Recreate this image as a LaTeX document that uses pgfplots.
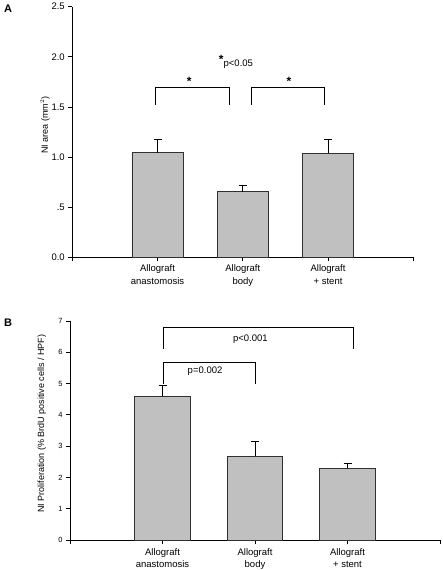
\documentclass[border=0pt]{standalone}
\usepackage{fontspec}
\setmainfont{Liberation Sans}
\usepackage{pgfplots}
\pgfplotsset{compat=1.18}
\definecolor{barfill}{HTML}{C0C0C0}
\definecolor{baredge}{HTML}{303030}
\begin{document}
\begin{tikzpicture}
\path[use as bounding box] (0,0) rectangle (442pt,570pt);
\pgfplotsset{
  myaxis/.style={
    scale only axis,
    anchor=south west,
    xmin=-1, xmax=3, ymin=0,
    axis x line*=bottom, axis y line*=left,
    axis line style={line width=0.8pt,black},
    tick align=outside,
    major tick length=4pt,
    tick style={line width=0.8pt,black},
    xtick={-1,0,1,2,3},
    xticklabels={,Allograft\\anastomosis,Allograft\\body,Allograft\\+ stent,},
    xticklabel style={align=center,font=\fontsize{9.5}{13}\selectfont},
    ybar, bar width=0.6,
    clip=false,
  },
  mybar/.style={fill=barfill, draw=baredge, line width=0.8pt,
    error bars/.cd, y dir=plus, y explicit,
    error bar style={line width=0.8pt,black},
    error mark options={rotate=90,mark size=4pt,line width=0.8pt,black}},
}
% Panel A
\begin{axis}[myaxis,
  at={(72.3pt,312.7pt)},
  width=341pt, height=250.6pt,
  ymax=2.5,
  ytick={0,0.5,1,1.5,2,2.5},
  yticklabels={0.0,.5,1.0,1.5,2.0,2.5},
  yticklabel style={font=\fontsize{9.5}{10}\selectfont},
  ylabel={NI area (mm$^{2}$)},
  ylabel style={at={(axis description cs:-0.08,0.528)},anchor=center,font=\fontsize{9}{10}\selectfont},
]
\addplot[mybar] coordinates {(0,1.045) +- (0,0.135) (1,0.655) +- (0,0.065) (2,1.04) +- (0,0.14)};
\draw[line width=0.8pt,black] (axis cs:-0.02,1.52) -- (axis cs:-0.02,1.69) -- (axis cs:0.84,1.69) -- (axis cs:0.84,1.52);
\draw[line width=0.8pt,black] (axis cs:1.10,1.52) -- (axis cs:1.10,1.69) -- (axis cs:1.96,1.69) -- (axis cs:1.96,1.52);
\node[font=\bfseries\fontsize{12}{12}\selectfont] at (axis cs:0.37,1.76) {*};
\node[font=\bfseries\fontsize{12}{12}\selectfont] at (axis cs:1.54,1.76) {*};
\node[font=\fontsize{9.5}{10}\selectfont] at (axis cs:0.92,1.95) {\textbf{\fontsize{12}{12}\selectfont\raisebox{0.45ex}{*}}p<0.05};
\end{axis}
% Panel B
\begin{axis}[myaxis,
  at={(70pt,30pt)},
  width=370pt, height=219pt,
  ymax=7,
  ytick={0,1,2,3,4,5,6,7},
  yticklabels={0,1,2,3,4,5,6,7},
  yticklabel style={font=\fontsize{7.5}{8}\selectfont},
  xticklabel style={font=\fontsize{9.5}{12}\selectfont, yshift=-1pt},
  ylabel={NI Proliferation (\% BrdU positive cells / HPF)},
  ylabel style={at={(axis description cs:-0.0765,0.53)},anchor=center,font=\fontsize{9}{10}\selectfont},
]
\addplot[mybar] coordinates {(0,4.59) +- (0,0.34) (1,2.67) +- (0,0.47) (2,2.29) +- (0,0.16)};
\draw[line width=0.8pt,black] (axis cs:0.01,6.12) -- (axis cs:0.01,6.78) -- (axis cs:2.06,6.78) -- (axis cs:2.06,6.12);
\draw[line width=0.8pt,black] (axis cs:0.01,5.0) -- (axis cs:0.01,5.69) -- (axis cs:1.0,5.69) -- (axis cs:1.0,5.0);
\node[font=\fontsize{9.5}{10}\selectfont] at (axis cs:0.95,6.42) {p<0.001};
\node[font=\fontsize{9.5}{10}\selectfont] at (axis cs:0.46,5.4) {p=0.002};
\end{axis}
\node[font=\bfseries\fontsize{11}{12}\selectfont] at (8pt,561pt) {A};
\node[font=\bfseries\fontsize{11}{12}\selectfont] at (8pt,247pt) {B};
\end{tikzpicture}
\end{document}
